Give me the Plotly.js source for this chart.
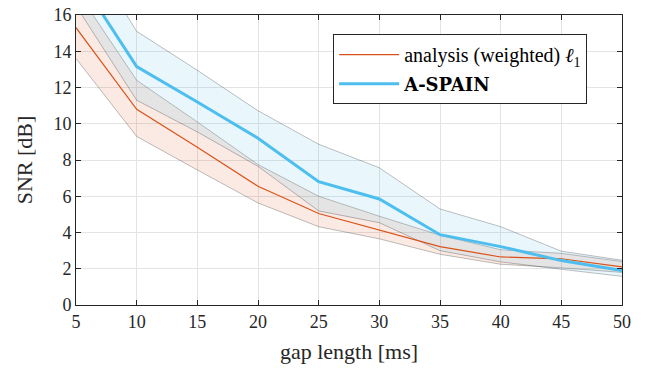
<!DOCTYPE html>
<html>
<head>
<meta charset="utf-8">
<script src="https://cdn.plot.ly/plotly-3.0.1.min.js"></script>
<style>
html,body{margin:0;padding:0;background:#fff;}
</style>
</head>
<body>
<div id="chart" style="width:645px;height:371px;"></div>
<script>
// Gap lengths [ms]
const gapLength = [5, 10, 15, 20, 25, 30, 35, 40, 45, 50];

// analysis (weighted) l1
const analysisMean  = [15.3, 10.8, 8.7, 6.55, 5.05, 4.15, 3.22, 2.65, 2.55, 2.1];
const analysisUpper = [17.4, 12.4, 10.1, 7.75, 6.0, 4.9, 3.85, 3.05, 2.85, 2.4];
const analysisLower = [13.6, 9.3, 7.45, 5.63, 4.32, 3.65, 2.8, 2.25, 2.05, 1.8];

// A-SPAIN
const aspainMean  = [18.3, 13.15, 11.2, 9.2, 6.8, 5.85, 3.88, 3.22, 2.45, 1.9];
const aspainUpper = [20.5, 15.1, 12.95, 10.72, 8.87, 7.57, 5.3, 4.32, 2.97, 2.47];
const aspainLower = [16.5, 11.3, 9.55, 7.65, 5.19, 4.54, 3.0, 2.38, 1.97, 1.58];

const xTicks = [5, 10, 15, 20, 25, 30, 35, 40, 45, 50];
const yTicks = [0, 2, 4, 6, 8, 10, 12, 14, 16];

const ORANGE = '#D95319';
const BLUE = '#4DBEEE';
const EDGE = 'rgba(0,0,0,0.25)';

function band(lower, upper, fill) {
  return [
    {x: gapLength, y: lower, type: 'scatter', mode: 'lines',
     line: {color: EDGE, width: 1}, showlegend: false, hoverinfo: 'skip'},
    {x: gapLength, y: upper, type: 'scatter', mode: 'lines', fill: 'tonexty',
     fillcolor: fill, line: {color: EDGE, width: 1}, showlegend: false, hoverinfo: 'skip'}
  ];
}

const traces = [].concat(
  band(analysisLower, analysisUpper, 'rgba(217,83,25,0.12)'),
  band(aspainLower, aspainUpper, 'rgba(77,190,238,0.12)'),
  [
    {x: gapLength, y: analysisMean, type: 'scatter', mode: 'lines',
     name: 'analysis (weighted) <i>ℓ</i><sub>1</sub>', line: {color: ORANGE, width: 1.2}},
    {x: gapLength, y: aspainMean, type: 'scatter', mode: 'lines',
     name: '<b><span style="font-family:DejaVu Serif;font-size:18px">A-SPAIN</span></b>', line: {color: BLUE, width: 3}}
  ]
);

const layout = {
  width: 645, height: 371,
  margin: {l: 76, r: 23, t: 15, b: 66},
  paper_bgcolor: '#fff', plot_bgcolor: '#fff',
  font: {family: 'Liberation Serif', size: 18, color: '#262626'},
  showlegend: true,
  legend: {
    x: 0.471, y: 0.934, xanchor: 'left', yanchor: 'top',
    traceorder: 'normal',
    bgcolor: '#fff', bordercolor: '#262626', borderwidth: 1,
    font: {family: 'Liberation Serif', size: 20, color: '#000'},
    itemwidth: 60, tracegroupgap: 0
  },
  xaxis: {
    range: [5, 50], tickvals: xTicks, ticktext: xTicks.map(String),
    showgrid: true, gridcolor: '#e3e3e3', gridwidth: 1,
    zeroline: false, showline: true, linecolor: '#262626', linewidth: 1, mirror: 'ticks',
    ticks: 'inside', ticklen: 5, tickcolor: '#262626',
    tickfont: {family: 'Liberation Serif', size: 18, color: '#262626'},
    title: {text: 'gap length [ms]', font: {family: 'Liberation Serif', size: 22, color: '#262626'}, standoff: 13}
  },
  yaxis: {
    range: [0, 16], tickvals: yTicks, ticktext: yTicks.map(String),
    showgrid: true, gridcolor: '#e3e3e3', gridwidth: 1,
    zeroline: false, showline: true, linecolor: '#262626', linewidth: 1, mirror: 'ticks',
    ticks: 'inside', ticklen: 5, tickcolor: '#262626',
    tickfont: {family: 'Liberation Serif', size: 18, color: '#262626'},
    title: {text: 'SNR [dB]', font: {family: 'Liberation Serif', size: 22, color: '#262626'}, standoff: 14}
  }
};

Plotly.newPlot('chart', traces, layout, {displayModeBar: false});
</script>
</body>
</html>
